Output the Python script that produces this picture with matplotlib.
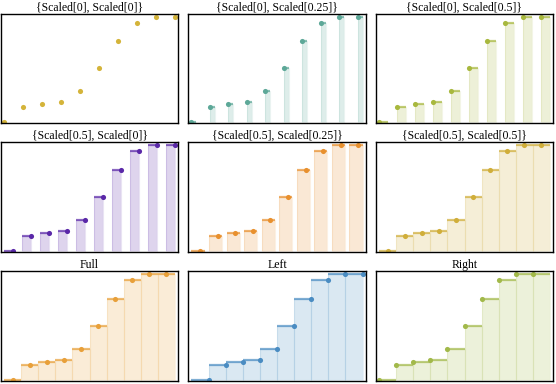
import matplotlib
matplotlib.use("Agg")
import matplotlib.pyplot as plt
import numpy as np

# step data
x_vals = np.arange(1, 11)
y_vals = [0.0, 0.139, 0.167, 0.188, 0.292, 0.508, 0.764, 0.944, 1.0, 1.0]

titles = [
    "{Scaled[0], Scaled[0]}", "{Scaled[0], Scaled[0.25]}", "{Scaled[0], Scaled[0.5]}",
    "{Scaled[0.5], Scaled[0]}", "{Scaled[0.5], Scaled[0.25]}", "{Scaled[0.5], Scaled[0.5]}",
    "Full", "Left", "Right",
]
# (left extent, right extent) of each step, in units of the x spacing
extents = [
    (0, 0), (0, 0.25), (0, 0.5),
    (0.5, 0), (0.5, 0.25), (0.5, 0.5),
    (0.5, 0.5), (1, 0), (0, 1),
]
colors = [
    "#d4b43a", "#5da898", "#a8b83e",
    "#5a28a8", "#e8902e", "#d0ae3a",
    "#e8a03a", "#4a8cc2", "#a2b94a",
]

W, H = 556, 384
col_px = [(1, 178), (188, 366), (376, 553)]
row_px = [(14, 123), (142, 252), (271, 381)]

fig = plt.figure(figsize=(W / 100, H / 100), dpi=100)

for i, (title, (left, right), color) in enumerate(zip(titles, extents, colors)):
    r, c = divmod(i, 3)
    x0, x1 = col_px[c]
    y0, y1 = row_px[r]
    ax = fig.add_axes([x0 / W, (H - y1) / H, (x1 - x0) / W, (y1 - y0) / H])

    if left + right > 0:
        ax.bar(x_vals - left, y_vals, width=left + right, align="edge",
               color=color, alpha=0.2, linewidth=0)
        ax.bar(x_vals - left, y_vals, width=left + right, align="edge",
               fill=False, edgecolor=color, alpha=0.13, linewidth=0.8)
        ax.hlines(y_vals, x_vals - left, x_vals + right, color=color,
                  alpha=0.7, linewidth=1.6)
    ax.plot(x_vals, y_vals, "o", color=color, markersize=3.7, markeredgewidth=0)

    lo, hi = x_vals[0] - left, x_vals[-1] + right
    span = hi - lo
    ax.set_xlim(lo - 0.02 * span, hi + 0.02 * span)
    ax.set_ylim(-0.012, 1.025)
    ax.set_xticks([])
    ax.set_yticks([])
    for sp in ax.spines.values():
        sp.set_linewidth(1.0)
        sp.set_color("black")
    ax.set_title(title, fontsize=8.5, family="Liberation Serif", pad=1.5)

fig.savefig("out.png", dpi=100)
